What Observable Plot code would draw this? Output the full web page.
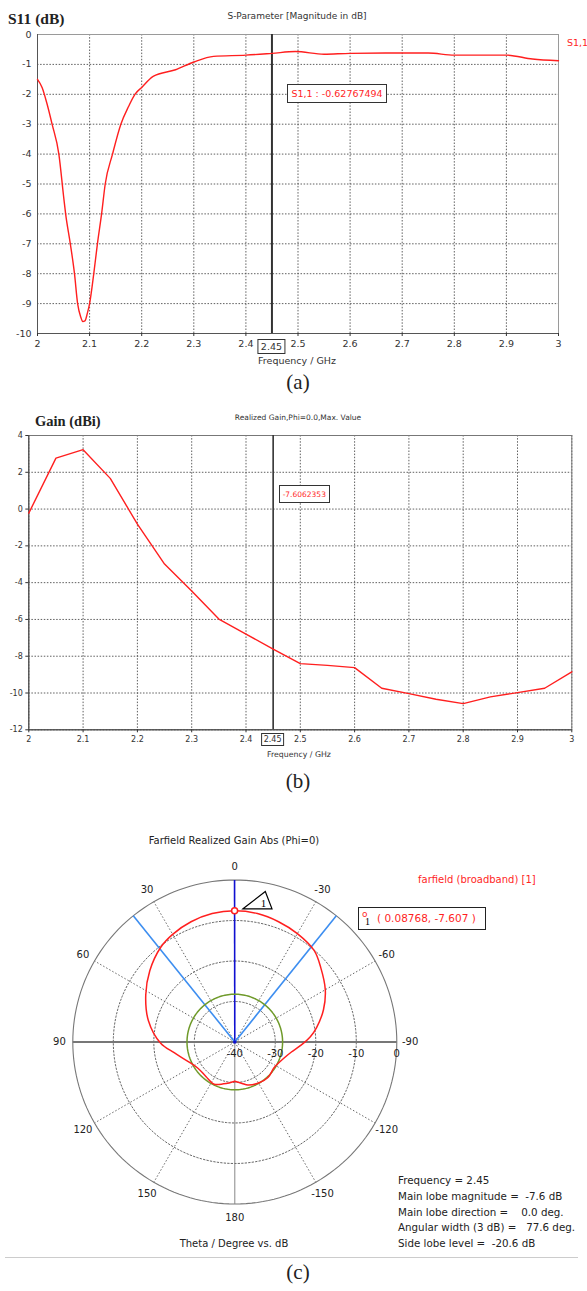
<!DOCTYPE html>
<html><head><meta charset="utf-8">
<script src="https://cdn.jsdelivr.net/npm/d3@7"></script>
<script src="https://cdn.jsdelivr.net/npm/@observablehq/plot@0.6"></script>
<style>
body{margin:0;background:#fff;}
#wrap{position:relative;width:587px;height:1291px;overflow:hidden;font-family:"DejaVu Sans",sans-serif;color:#222;}
.abs{position:absolute;white-space:pre;line-height:1;}
.serif{font-family:"Liberation Serif","Times New Roman",serif;}
.bx{border:1px solid #333;background:#fff;box-sizing:border-box;}
svg{position:absolute;left:0;}
</style></head><body><div id="wrap"></div>
<script>
// ---------- data ----------
const freqTicks = [2,2.1,2.2,2.3,2.4,2.5,2.6,2.7,2.8,2.9,3];
const s11Ticks = [0,-1,-2,-3,-4,-5,-6,-7,-8,-9,-10];
const gainTicks = [4,2,0,-2,-4,-6,-8,-10,-12];
const s11Freq = [2.000,2.009,2.018,2.028,2.041,2.050,2.054,2.063,2.071,2.077,2.083,2.087,2.091,2.096,2.100,2.108,2.115,2.123,2.130,2.144,2.160,2.175,2.187,2.200,2.222,2.265,2.300,2.338,2.400,2.450,2.495,2.550,2.600,2.700,2.750,2.800,2.900,2.950,3.000];
const s11Db   = [-1.50,-1.78,-2.30,-3.00,-4.00,-5.40,-6.00,-7.00,-8.00,-9.00,-9.45,-9.60,-9.58,-9.30,-9.00,-8.00,-7.00,-6.00,-5.00,-4.00,-3.00,-2.40,-2.00,-1.77,-1.40,-1.18,-0.92,-0.73,-0.69,-0.63,-0.57,-0.66,-0.63,-0.62,-0.62,-0.69,-0.69,-0.82,-0.88];
const gainFreq = [2.00,2.05,2.10,2.15,2.20,2.25,2.30,2.35,2.40,2.45,2.50,2.55,2.60,2.65,2.70,2.75,2.80,2.85,2.90,2.95,3.00];
const gainDbi  = [-0.22,2.77,3.23,1.67,-0.82,-2.99,-4.45,-5.98,-6.80,-7.61,-8.40,-8.50,-8.62,-9.74,-10.03,-10.34,-10.58,-10.21,-9.98,-9.74,-8.85];
const patternTheta = [-180,-170,-163,-150,-137,-123,-108,-100,-93,-86,-80,-70,-60,-49,-41,-30,-20,-10,0,10,20,30,38,50,62,76,91,100,112,125,140,154,165,172,180];
const patternDb    = [-30.3,-29.6,-28.9,-28.3,-28.0,-28.4,-27.2,-25.8,-23.7,-21.3,-19.5,-16.7,-14.2,-11.9,-10.1,-9.1,-8.4,-7.8,-7.6,-7.8,-8.4,-9.3,-10.3,-12.6,-15.1,-18.0,-21.7,-24.8,-27.4,-28.8,-28.9,-28.4,-29.3,-29.8,-30.3];
const angleTicks = [0,30,60,90,120,150,180,-150,-120,-90,-60,-30];
const ringTicks = [-40,-30,-20,-10,0];
const gridRings = [-30,-20,-10];
const radialAngles = [30,60,120,150,-30,-60,-120,-150];
const markerFreq = 2.45;
const s11Marker = -0.62767494;
const gainMarker = -7.6062353;
const mainLobeDb = -7.607;
const mainLobeTheta = 0.08768;
const beamHalf = 38.8;
const sideLobeAbs = -28.2;
const infoLines = ["Frequency = 2.45","Main lobe magnitude =  -7.6 dB","Main lobe direction =    0.0 deg.","Angular width (3 dB) =   77.6 deg.","Side lobe level =  -20.6 dB"];

// ---------- helpers ----------
const wrap = document.getElementById("wrap");
function addDiv(html, css, cls){ const d=document.createElement("div"); d.className="abs "+(cls||""); d.innerHTML=html; Object.assign(d.style, css); wrap.appendChild(d); return d; }
function place(svg, top){ svg.style.top = top+"px"; wrap.appendChild(svg); }
const fmt = d => String(+(+d).toFixed(2));
const red = "#ff1f1f";
const gridStyle = {stroke:"#444", strokeOpacity:0.85, strokeDasharray:"1.5,1.6"};

// ---------- (a) S11 ----------
const s11Data = s11Freq.map((f,i)=>({f, v:s11Db[i]}));
const plotA = Plot.plot({
  width:587, height:360, marginLeft:37, marginRight:29, marginTop:34, marginBottom:27,
  style:{background:"transparent", fontFamily:"DejaVu Sans", fontSize:"9.5px", color:"#333", overflow:"visible"},
  x:{domain:[2,3]}, y:{domain:[-10,0]},
  marks:[
    Plot.gridX(freqTicks, gridStyle),
    Plot.gridY(s11Ticks, gridStyle),
    Plot.frame({stroke:"#9a9a9a"}),
    Plot.ruleX([2],{stroke:"#555"}), Plot.ruleY([-10],{stroke:"#555"}),
    Plot.axisX(freqTicks,{tickSize:3, tickPadding:4, tickFormat:fmt, label:null}),
    Plot.axisY(s11Ticks,{tickSize:0, tickPadding:6, tickFormat:fmt, label:null}),
    Plot.ruleX([markerFreq],{stroke:"#333", strokeWidth:2}),
    Plot.line(s11Data,{x:"f", y:"v", stroke:red, strokeWidth:1.4, curve:"monotone-x"})
  ]
});
place(plotA, 0);
{
  const sx = plotA.scale("x"), sy = plotA.scale("y");
  const mx = sx.apply(markerFreq);
  addDiv("S11 (dB)", {left:"8px", top:"11px", fontSize:"15.5px", fontWeight:"bold"}, "serif");
  addDiv("S-Parameter [Magnitude in dB]", {left:"297px", top:"12px", fontSize:"9px", transform:"translateX(-50%)", color:"#333"});
  addDiv("S1,1", {left:"567px", top:"38px", fontSize:"9.5px", color:red});
  addDiv("S1,1 : "+s11Marker, {left:(mx+16)+"px", top:(sy.apply(-2)-9.5)+"px", height:"19px", padding:"4px 3px 0 3px", fontSize:"9.5px", color:red, border:"1.5px solid #333"}, "bx");
  addDiv(String(markerFreq), {left:mx+"px", top:"339px", transform:"translateX(-50%)", fontSize:"9.5px", padding:"2px 2px 1px 2px", color:"#333"}, "bx");
  addDiv("Frequency / GHz", {left:"297px", top:"356px", fontSize:"9.5px", transform:"translateX(-50%)", color:"#333"});
  addDiv("(a)", {left:"298px", top:"372px", fontSize:"21px", transform:"translateX(-50%)"}, "serif");
}

// ---------- (b) Gain ----------
const gainData = gainFreq.map((f,i)=>({f, v:gainDbi[i]}));
const plotB = Plot.plot({
  width:587, height:360, marginLeft:28.3, marginRight:15.7, marginTop:35, marginBottom:30.7,
  style:{background:"transparent", fontFamily:"DejaVu Sans", fontSize:"8px", color:"#333", overflow:"visible"},
  x:{domain:[2,3]}, y:{domain:[-12,4]},
  marks:[
    Plot.gridX(freqTicks, gridStyle),
    Plot.gridY(gainTicks, gridStyle),
    Plot.frame({stroke:"#777"}),
    Plot.ruleX([2],{stroke:"#444"}), Plot.ruleY([-12],{stroke:"#444"}),
    Plot.axisX(freqTicks,{tickSize:3, tickPadding:4, tickFormat:fmt, label:null}),
    Plot.axisY(gainTicks,{tickSize:3, tickPadding:3, tickFormat:fmt, label:null}),
    Plot.ruleX([markerFreq],{stroke:"#333", strokeWidth:1.6}),
    Plot.line(gainData,{x:"f", y:"v", stroke:red, strokeWidth:1.4})
  ]
});
place(plotB, 400);
{
  const sx = plotB.scale("x"), sy = plotB.scale("y");
  const mx = sx.apply(markerFreq);
  addDiv("Gain (dBi)", {left:"35px", top:"414px", fontSize:"14.5px", fontWeight:"bold"}, "serif");
  addDiv("Realized Gain,Phi=0.0,Max. Value", {left:"298px", top:"414px", fontSize:"7.5px", transform:"translateX(-50%)", color:"#333"});
  addDiv(String(gainMarker), {left:(mx+6)+"px", top:(400+sy.apply(0.8)-9)+"px", height:"18px", padding:"5px 3px 0 3px", fontSize:"7.5px", color:red, border:"1.5px solid #333"}, "bx");
  addDiv(String(markerFreq), {left:mx+"px", top:"733px", transform:"translateX(-50%)", fontSize:"8px", padding:"2px 2px 1px 2px", color:"#333"}, "bx");
  addDiv("Frequency / GHz", {left:"299px", top:"751px", fontSize:"7.8px", transform:"translateX(-50%)", color:"#333"});
  addDiv("(b)", {left:"298px", top:"771px", fontSize:"21px", transform:"translateX(-50%)"}, "serif");
}

// ---------- (c) Polar farfield ----------
const px = (th, db) => -(db+40)*Math.sin(th*Math.PI/180);
const py = (th, db) =>  (db+40)*Math.cos(th*Math.PI/180);
const patternData = patternTheta.map((t,i)=>({t, v:patternDb[i]}));
const circlePts = lvl => d3.range(0, 361, 2).map(t=>({t, v:lvl}));
const plotC = Plot.plot({
  width:587, height:440, marginLeft:72.3, marginRight:190.7, marginTop:59.5, marginBottom:56.5,
  style:{background:"transparent", fontFamily:"DejaVu Sans", fontSize:"10px", color:"#222", overflow:"visible"},
  x:{domain:[-40,40], axis:null}, y:{domain:[-40,40], axis:null},
  marks:[
    ...gridRings.map(l => Plot.line(circlePts(l), {x:d=>px(d.t,d.v), y:d=>py(d.t,d.v), stroke:"#555", strokeWidth:0.9, strokeDasharray:"1.5,2"})),
    Plot.link(radialAngles, {x1:0, y1:0, x2:a=>px(a,0), y2:a=>py(a,0), stroke:"#555", strokeWidth:0.9, strokeDasharray:"1.5,2"}),
    Plot.line(circlePts(0), {x:d=>px(d.t,d.v), y:d=>py(d.t,d.v), stroke:"#777", strokeWidth:1.1}),
    Plot.link([90], {x1:a=>px(a,0), y1:0, x2:a=>px(-a,0), y2:0, stroke:"#777", strokeWidth:2}),
    Plot.link([180], {x1:0, y1:0, x2:a=>px(a,0), y2:a=>py(a,0), stroke:"#888", strokeWidth:1}),
    Plot.link([mainLobeTheta], {x1:0, y1:0, x2:a=>px(a,0), y2:a=>py(a,0), stroke:"#1010d0", strokeWidth:1.6}),
    Plot.link([beamHalf, -beamHalf], {x1:0, y1:0, x2:a=>px(a,0), y2:a=>py(a,0), stroke:"#3d8ef0", strokeWidth:1.6}),
    Plot.line(circlePts(sideLobeAbs), {x:d=>px(d.t,d.v), y:d=>py(d.t,d.v), stroke:"#6f9a2a", strokeWidth:1.5}),
    Plot.line(patternData, {x:d=>px(d.t,d.v), y:d=>py(d.t,d.v), stroke:red, strokeWidth:1.5, curve:"catmull-rom"}),
    Plot.dot([0], {x:0, y:0, r:1.8, fill:"#1010d0"}),
    Plot.dot([mainLobeTheta], {x:a=>px(a,mainLobeDb), y:a=>py(a,mainLobeDb), r:3, stroke:red, strokeWidth:1.5, fill:"#fff"}),
    Plot.dot([mainLobeTheta], {x:a=>px(a,mainLobeDb), y:a=>py(a,mainLobeDb), r:6, stroke:"#000", strokeWidth:1.2, fill:"#fff",
      symbol:{draw(ctx){ ctx.moveTo(8.4,-2); ctx.lineTo(30.7,-19.3); ctx.lineTo(37.4,-2); ctx.closePath(); }}}),
    Plot.text([mainLobeTheta], {x:a=>px(a,mainLobeDb), y:a=>py(a,mainLobeDb), text:()=>"1", dx:29, dy:-7, fontSize:11, fontFamily:"Liberation Serif", fill:"#000"}),
    Plot.text(angleTicks, {x:a=>px(a,3.3), y:a=>py(a,3.3), text:a=>String(a), fill:"#222"}),
    Plot.text(ringTicks, {x:d=>d+40, y:-2.8, text:d=>String(d), fill:"#222"})
  ]
});
place(plotC, 820);
addDiv("Farfield Realized Gain Abs (Phi=0)", {left:"234px", top:"836px", fontSize:"10px", transform:"translateX(-50%)", color:"#222"});
addDiv("farfield (broadband) [1]", {left:"418px", top:"875px", fontSize:"10px", color:red});
addDiv('<span style="position:absolute;left:3px;top:2px;color:'+red+';font-size:9px">o</span><span style="position:absolute;left:6px;top:9px;font-size:10px;color:#000;font-family:Liberation Serif">1</span><span style="position:absolute;left:18px;top:5px">( '+mainLobeTheta+', '+mainLobeDb+' )</span>',
  {left:"358px", top:"907px", width:"128px", height:"23px", fontSize:"10.5px", color:red, border:"1.5px solid #222"}, "bx");
infoLines.forEach((t,i)=> addDiv(t, {left:"398px", top:(1175+i*15.8)+"px", fontSize:"10.3px", color:"#222"}));
addDiv("Theta / Degree vs. dB", {left:"234px", top:"1239px", fontSize:"10px", transform:"translateX(-50%)", color:"#222"});
addDiv("", {left:"5px", top:"1257px", width:"573px", height:"0px", borderTop:"1px solid #ccc"});
addDiv("(c)", {left:"298px", top:"1262px", fontSize:"21px", transform:"translateX(-50%)"}, "serif");
</script></body></html>
